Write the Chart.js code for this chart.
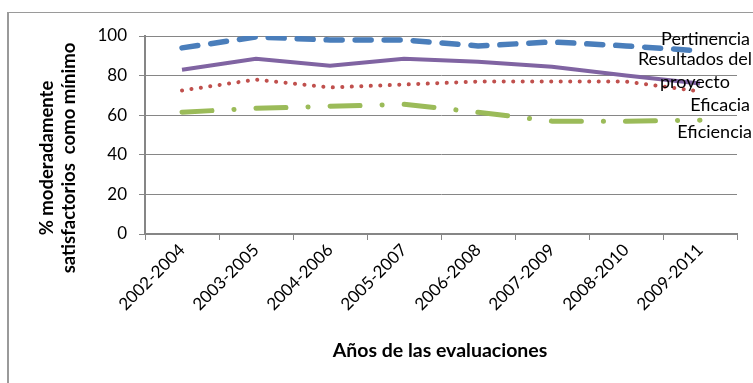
<!DOCTYPE html>
<html>
<head>
<meta charset="utf-8">
<script src="https://cdn.jsdelivr.net/npm/chart.js@4/dist/chart.umd.min.js"></script>
<style>
  html, body { margin: 0; padding: 0; background: #fff; }
  #wrap { position: relative; width: 753px; height: 383px; }
  #marco { position: absolute; left: 7px; top: 12px; right: -5px; bottom: -5px;
           border-left: 2px solid #9a9a9a; border-top: 1px solid #9a9a9a; }
  canvas { position: absolute; left: 0; top: 0; }
</style>
</head>
<body>
<div id="wrap">
  <div id="marco"></div>
  <canvas id="evalgraf" width="753" height="383"></canvas>
</div>
<script>
const periodos = ['2002-2004', '2003-2005', '2004-2006', '2005-2007', '2006-2008', '2007-2009', '2008-2010', '2009-2011'];
const pertinencia = [94, 99.5, 98, 98, 95, 97, 95, 92.5];
const resultados = [83, 88.5, 85, 88.5, 87, 84.5, 80, 76];
const eficacia = [72.5, 78, 74, 75.5, 77, 77, 77, 72];
const eficiencia = [61.5, 63.5, 64.5, 65.5, 61.5, 57, 57, 57.5];
const ticksY = [0, 20, 40, 60, 80, 100];

const fuente = 'Lato, "Noto Sans", sans-serif';

// etiquetas al final de cada serie
const etiquetas = {
  id: 'etiquetas',
  afterDatasetsDraw(chart) {
    const ctx = chart.ctx;
    ctx.save();
    ctx.fillStyle = '#000';
    ctx.font = '18px ' + fuente;
    ctx.textBaseline = 'middle';
    chart.data.datasets.forEach((ds, i) => {
      const p = chart.getDatasetMeta(i).data[ds.data.length - 1];
      ctx.textAlign = ds.etiqAlign;
      ds.etiqueta.forEach((t, j) => {
        ctx.fillText(t, p.x + ds.etiqDx, p.y + ds.etiqDy + j * 23);
      });
    });
    // titulos de ejes
    ctx.textAlign = 'center';
    ctx.font = 'bold 19.5px ' + fuente;
    ctx.fillText('Años de las evaluaciones', 440, 351);
    ctx.font = 'bold 18.5px ' + fuente;
    ctx.translate(58, 158);
    ctx.rotate(-Math.PI / 2);
    ctx.fillText('% moderadamente', 0, -11);
    ctx.fillText('satisfactorios  como mínimo', 0, 11);
    ctx.restore();
  }
};

new Chart('evalgraf', {
  type: 'line',
  data: {
    labels: periodos,
    datasets: [{
      label: 'Pertinencia',
      data: pertinencia,
      borderColor: '#4A7EBB',
      borderWidth: 5.5,
      borderDash: [16, 13],
      borderCapStyle: 'round',
      etiqueta: ['Pertinencia'], etiqAlign: 'right', etiqDx: 50, etiqDy: -12
    }, {
      label: 'Resultados del proyecto',
      data: resultados,
      borderColor: '#8064A2',
      borderWidth: 4,
      etiqueta: ['Resultados del', 'proyecto'], etiqAlign: 'center', etiqDx: -5, etiqDy: -24
    }, {
      label: 'Eficacia',
      data: eficacia,
      borderColor: '#C0504D',
      borderWidth: 4,
      borderDash: [0.1, 9.4],
      borderCapStyle: 'round',
      etiqueta: ['Eficacia'], etiqAlign: 'right', etiqDx: 50, etiqDy: 14
    }, {
      label: 'Eficiencia',
      data: eficiencia,
      borderColor: '#9BBB59',
      borderWidth: 5,
      borderDash: [30, 22, 0.1, 22],
      borderCapStyle: 'round',
      etiqueta: ['Eficiencia'], etiqAlign: 'right', etiqDx: 52, etiqDy: 12
    }]
  },
  options: {
    responsive: false,
    animation: false,
    layout: { padding: { top: 36, right: 16, left: 0, bottom: 0 } },
    elements: { point: { radius: 0 }, line: { tension: 0 } },
    plugins: { legend: { display: false }, tooltip: { enabled: false } },
    scales: {
      x: {
        offset: true,
        grid: { offset: true, drawOnChartArea: false, color: '#868686', tickLength: 6 },
        border: { color: '#868686', width: 2 },
        ticks: { color: '#000', font: { family: fuente, size: 17 }, minRotation: 45, maxRotation: 45, padding: 0 },
        afterFit: s => { s.height = 149; }
      },
      y: {
        min: 0, max: 100,
        afterBuildTicks: s => { s.ticks = ticksY.map(v => ({ value: v })); },
        grid: { color: '#868686', tickLength: 6 },
        border: { color: '#868686', width: 2 },
        ticks: { color: '#000', font: { family: fuente, size: 17 }, padding: 12 },
        afterFit: s => { s.width = 145; }
      }
    }
  },
  plugins: [etiquetas]
});
</script>
</body>
</html>
